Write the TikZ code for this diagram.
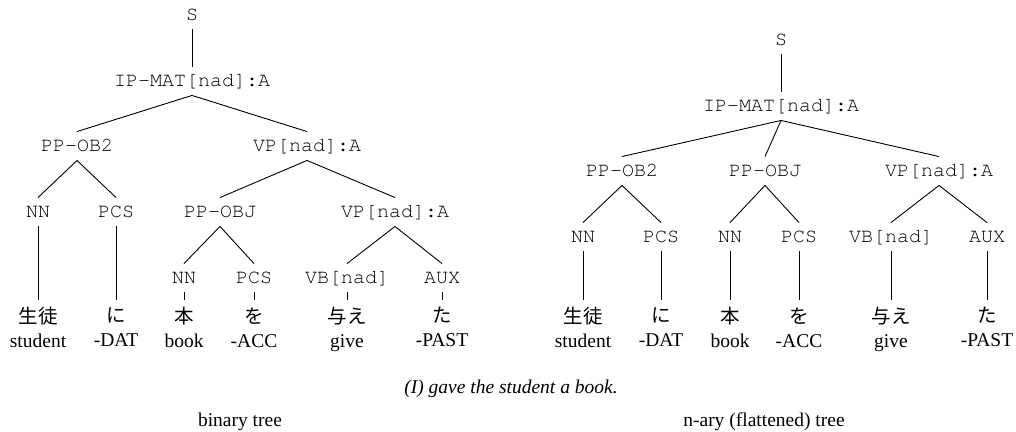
\documentclass[tikz,border=0pt]{standalone}
\usepackage{fontspec}
\setmainfont{Liberation Serif}
\setmonofont{TeX Gyre Cursor}
\newfontfamily\jpfont{Noto Sans CJK JP}
\usetikzlibrary{positioning}

\begin{document}
\begin{tikzpicture}[x=1pt, y=-1pt, line width=0.9pt,
    every node/.style={inner sep=0pt},
    cat/.style={font=\fontsize{20}{24}\selectfont\ttfamily, minimum height=28pt,
                text height=14pt, text depth=3pt},
    leaf/.style={anchor=north, align=center, inner ysep=7pt,
                 font=\fontsize{19.5}{24}\selectfont},
    note/.style={font=\fontsize{19.5}{24}\selectfont},
]
\useasboundingbox (0,0) rectangle (1016,431);

% Binary tree
\node[cat] (sB) at (192,15) {S};
\node[cat] (ipB) at (192,81) {IP-MAT[nad]:A};
\node[cat] (ppobB) at (77,146) {PP-OB2};
\node[cat] (vpB) at (307,146) {VP[nad]:A};
\node[cat] (nnaB) at (38,212) {NN};
\node[cat] (pcsaB) at (116,212) {PCS};
\node[cat] (ppojB) at (220,212) {PP-OBJ};
\node[cat] (vpxB) at (395,212) {VP[nad]:A};
\node[cat] (nnbB) at (184,278) {NN};
\node[cat] (pcsbB) at (254,278) {PCS};
\node[cat] (vbB) at (347,278) {VB[nad]};
\node[cat] (auxB) at (442,278) {AUX};

% Leaves of the binary tree
\foreach \n/\x/\j/\e in {waB/38/生徒/student, wbB/116/に/-DAT, wcB/184/本/book,
                         wdB/254/を/-ACC, weB/347/与え/give, wfB/442/た/-PAST} {
    \node[leaf] (\n) at (\x,300) {{\jpfont \j}\\\e};
}

\foreach \a/\b in {sB/ipB, ipB/ppobB, ipB/vpB, ppobB/nnaB, ppobB/pcsaB,
                   vpB/ppojB, vpB/vpxB, ppojB/nnbB, ppojB/pcsbB, vpxB/vbB, vpxB/auxB,
                   nnaB/waB, pcsaB/wbB, nnbB/wcB, pcsbB/wdB, vbB/weB, auxB/wfB} {
    \draw (\a.south) -- (\b.north);
}

% n-ary (flattened) tree
\node[cat] (sN) at (781,40) {S};
\node[cat] (ipN) at (781,106) {IP-MAT[nad]:A};
\node[cat] (ppobN) at (622,171) {PP-OB2};
\node[cat] (ppojN) at (765,171) {PP-OBJ};
\node[cat] (vpN) at (939,171) {VP[nad]:A};
\node[cat] (nnaN) at (583,237) {NN};
\node[cat] (pcsaN) at (661,237) {PCS};
\node[cat] (nnbN) at (730,237) {NN};
\node[cat] (pcsbN) at (799,237) {PCS};
\node[cat] (vbN) at (891,237) {VB[nad]};
\node[cat] (auxN) at (987,237) {AUX};

% Leaves of the n-ary tree
\foreach \n/\x/\j/\e in {waN/583/生徒/student, wbN/661/に/-DAT, wcN/730/本/book,
                         wdN/799/を/-ACC, weN/891/与え/give, wfN/987/た/-PAST} {
    \node[leaf] (\n) at (\x,300) {{\jpfont \j}\\\e};
}

\foreach \a/\b in {sN/ipN, ipN/ppobN, ipN/ppojN, ipN/vpN, ppobN/nnaN, ppobN/pcsaN,
                   ppojN/nnbN, ppojN/pcsbN, vpN/vbN, vpN/auxN,
                   nnaN/waN, pcsaN/wbN, nnbN/wcN, pcsbN/wdN, vbN/weN, auxN/wfN} {
    \draw (\a.south) -- (\b.north);
}

% Gloss and titles
\node[note, font=\fontsize{19.5}{24}\selectfont\itshape] (gloss) at (511,389) {(I) gave the student a book.};
\node[note] (titleB) at (240,422) {binary tree};
\node[note] (titleN) at (764,422) {n-ary (flattened) tree};

\end{tikzpicture}
\end{document}
